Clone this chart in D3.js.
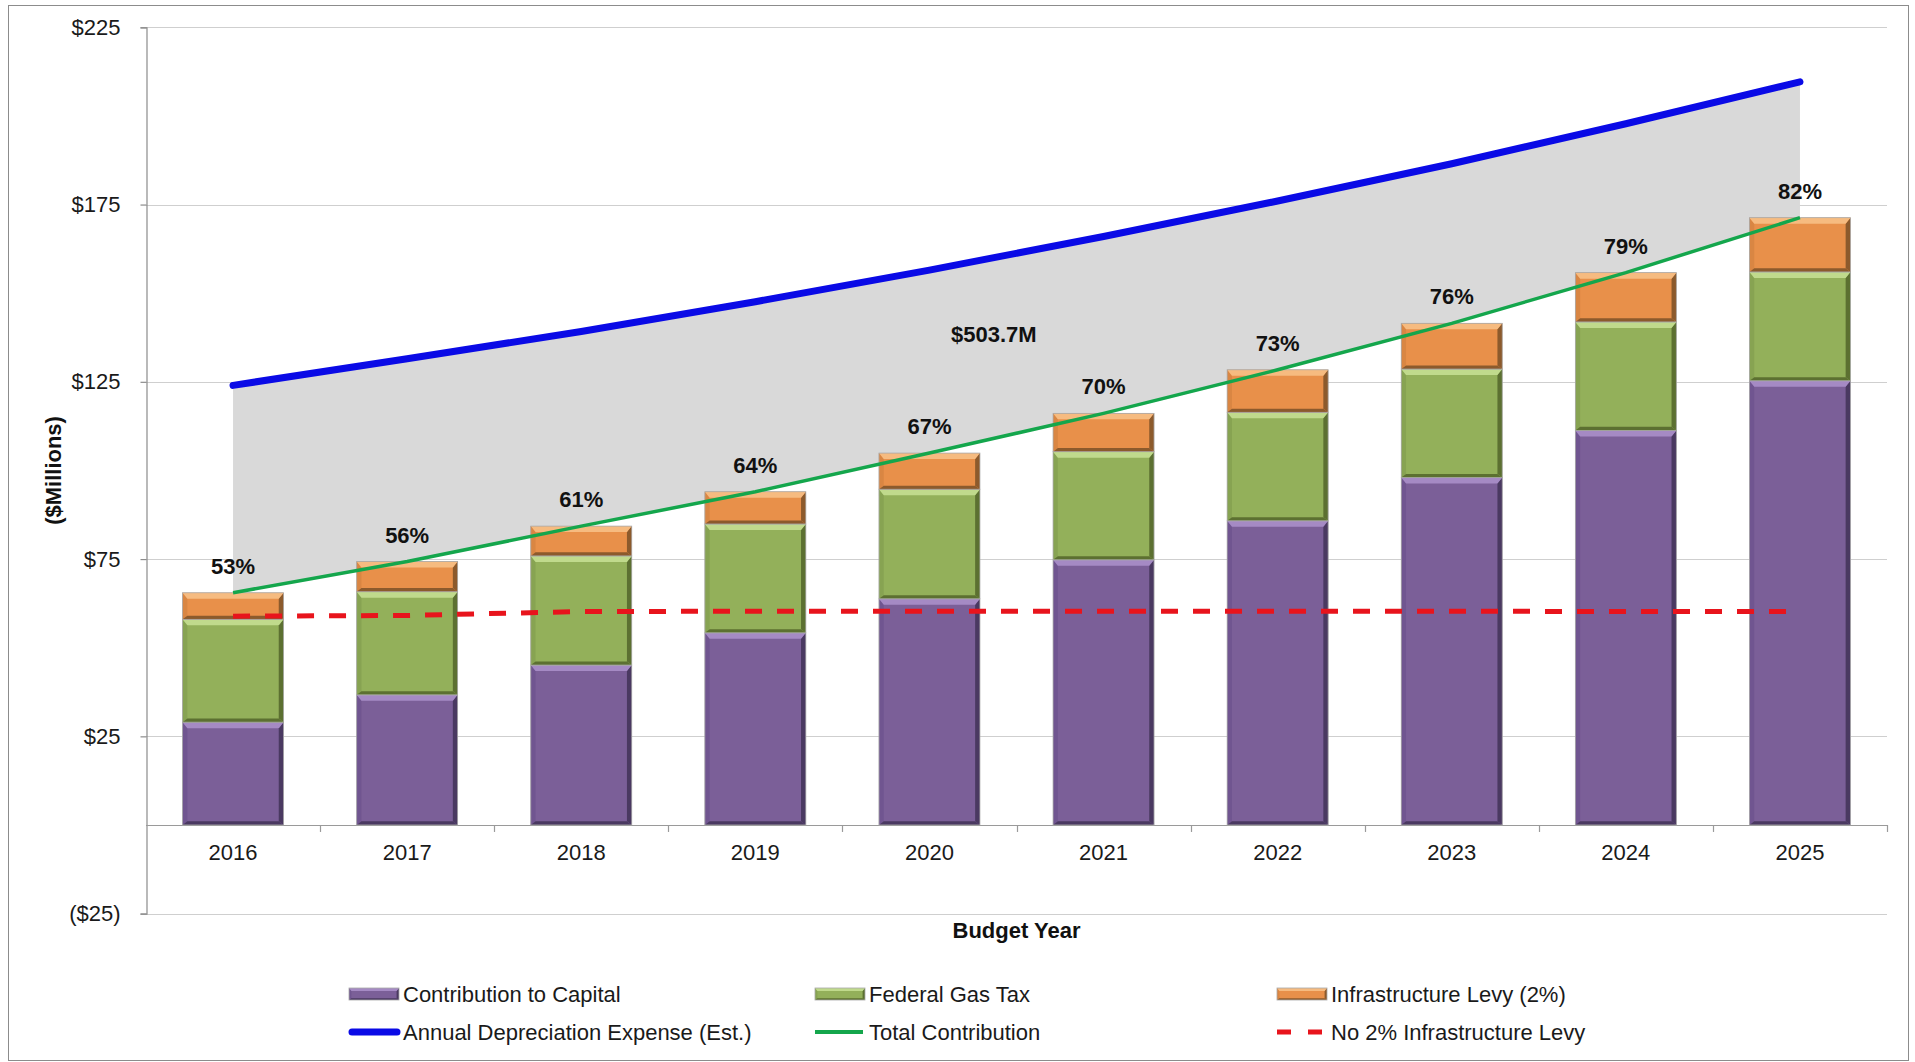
<!DOCTYPE html>
<html>
<head>
<meta charset="utf-8">
<script src="https://cdn.jsdelivr.net/npm/d3@7/dist/d3.min.js"></script>
<style>
  html, body { margin: 0; padding: 0; background: #fff; }
  svg { display: block; }
  text { font-family: "Liberation Sans", Arial, sans-serif; }
</style>
</head>
<body>
<svg id="chart" width="1915" height="1062"></svg>
<script>
// Budget years
const years = ["2016", "2017", "2018", "2019", "2020", "2021", "2022", "2023", "2024", "2025"];

// Stacked funding sources ($ millions)
const contributionToCapital = [29.0, 36.7, 45.1, 54.2, 63.8, 74.8, 85.8, 98.0, 111.3, 125.3];
const federalGasTax         = [29.0, 29.1, 30.8, 30.7, 30.9, 30.5, 30.6, 30.6, 30.6, 30.7];
const infrastructureLevy    = [7.5, 8.5, 8.4, 9.1, 10.2, 10.8, 12.0, 12.9, 13.9, 15.3];

// Line series ($ millions)
const depreciationExpense = [124.0, 131.5, 139.2, 147.6, 156.5, 166.0, 176.0, 186.5, 197.8, 209.6];
const noLevyContribution  = [58.9, 59.1, 60.2, 60.3, 60.3, 60.3, 60.3, 60.3, 60.2, 60.2];

// Funding ratio labels (total contribution / depreciation)
const fundingPct = [53, 56, 61, 64, 67, 70, 73, 76, 79, 82];

// Cumulative funding gap annotation
const gapLabel = "$503.7M";

// Y axis ticks
const yTicks = [-25, 25, 75, 125, 175, 225];

const series = [
  { name: "Contribution to Capital", values: contributionToCapital,
    body: "#7b5f98", light: "#a58ac4", side: "#705590", dark: "#4a3961" },
  { name: "Federal Gas Tax", values: federalGasTax,
    body: "#93b05a", light: "#c0da8c", side: "#87a352", dark: "#5c7031" },
  { name: "Infrastructure Levy (2%)", values: infrastructureLevy,
    body: "#e8904a", light: "#f6bb80", side: "#d98643", dark: "#8c5a2c" }
];

const totalContribution = years.map((_, i) =>
  contributionToCapital[i] + federalGasTax[i] + infrastructureLevy[i]);

const svg = d3.select("#chart");
const FONT = "\"Liberation Sans\", Arial, sans-serif";

// Outer frame
svg.append("rect")
  .attr("x", 8.5).attr("y", 5.5).attr("width", 1900).attr("height", 1055)
  .attr("fill", "#fff").attr("stroke", "#8c8c8c").attr("stroke-width", 1);

const plotLeft = 146, plotRight = 1887;
const x = d3.scaleBand().domain(years).range([plotLeft, plotRight])
  .paddingInner(0.42).paddingOuter(0.21);
const y = d3.scaleLinear().domain([-25, 225]).range([913.6, 27.3]);
const cx = d => x(d) + x.bandwidth() / 2;

// Horizontal gridlines
svg.append("g").selectAll("line").data(yTicks).join("line")
  .attr("x1", plotLeft).attr("x2", plotRight)
  .attr("y1", d => Math.round(y(d)) + 0.5).attr("y2", d => Math.round(y(d)) + 0.5)
  .attr("stroke", "#cfcfcf").attr("stroke-width", 1.2);

// Y axis line, ticks and labels
const yAxis = d3.axisLeft(y).tickValues(yTicks).tickSize(6).tickPadding(20)
  .tickFormat(d => d < 0 ? `($${Math.abs(d)})` : `$${d}`);
const gy = svg.append("g").attr("transform", `translate(${plotLeft + 0.5},0)`).call(yAxis);
gy.select(".domain").attr("stroke", "#8c8c8c").attr("stroke-width", 1.2);
gy.selectAll(".tick line").attr("stroke", "#8c8c8c").attr("stroke-width", 1.2);
gy.selectAll(".tick text").attr("font-family", FONT).attr("font-size", 22)
  .attr("fill", "#1a1a1a");

// Funding gap area between depreciation and total contribution
const gapArea = d3.area()
  .x((d, i) => cx(years[i]))
  .y0((d, i) => y(totalContribution[i]))
  .y1((d, i) => y(depreciationExpense[i]));
svg.append("path").datum(years).attr("d", gapArea).attr("fill", "#d9d9d9");

// Category axis along zero
svg.append("line")
  .attr("x1", plotLeft).attr("x2", plotRight)
  .attr("y1", Math.round(y(0)) + 0.5).attr("y2", Math.round(y(0)) + 0.5)
  .attr("stroke", "#9a9a9a").attr("stroke-width", 1.2);
const boundaries = d3.range(1, years.length + 1).map(i => plotLeft + x.step() * i);
svg.append("g").selectAll("line").data(boundaries).join("line")
  .attr("x1", d => Math.round(d) + 0.5).attr("x2", d => Math.round(d) + 0.5)
  .attr("y1", y(0)).attr("y2", y(0) + 7)
  .attr("stroke", "#9a9a9a").attr("stroke-width", 1.2);

// Bevelled bar segment: light top, shaded sides, dark bottom edge
function bevelRect(g, x0, y0, w, h, s, b) {
  const bt = Math.min(b, h / 3), bs = Math.min(b * 0.8, w / 4), bb = Math.min(b * 0.6, h / 4);
  g.append("rect").attr("x", x0).attr("y", y0).attr("width", w).attr("height", h)
    .attr("fill", s.body);
  const poly = (pts, fill) => g.append("polygon")
    .attr("points", pts.map(p => p.join(",")).join(" ")).attr("fill", fill);
  poly([[x0, y0], [x0 + bs, y0 + bt], [x0 + bs, y0 + h - bb], [x0, y0 + h]], s.side);
  poly([[x0 + w, y0], [x0 + w - bs, y0 + bt], [x0 + w - bs, y0 + h - bb], [x0 + w, y0 + h]], s.dark);
  poly([[x0, y0 + h], [x0 + w, y0 + h], [x0 + w - bs, y0 + h - bb], [x0 + bs, y0 + h - bb]], s.dark);
  poly([[x0, y0], [x0 + w, y0], [x0 + w - bs, y0 + bt], [x0 + bs, y0 + bt]], s.light);
  g.append("rect").attr("x", x0).attr("y", y0).attr("width", w).attr("height", h)
    .attr("fill", "none").attr("stroke", "#a9a9a9").attr("stroke-width", 0.8);
}

// Stacked bars
const stack = d3.stack().keys([0, 1, 2]).value((d, k) => series[k].values[d]);
const stacked = stack(d3.range(years.length));
const gBars = svg.append("g");
stacked.forEach((layer, k) => {
  layer.forEach((seg, i) => {
    const top = y(seg[1]), bottom = y(seg[0]);
    bevelRect(gBars, x(years[i]), top, x.bandwidth(), bottom - top, series[k], 6);
  });
});

// No-levy scenario (dashed)
const line = vals => d3.line().x((d, i) => cx(years[i])).y((d, i) => y(vals[i]))(years);
svg.append("path").attr("d", line(noLevyContribution))
  .attr("fill", "none").attr("stroke", "#e8141c").attr("stroke-width", 5)
  .attr("stroke-dasharray", "17,15").attr("stroke-linecap", "butt");

// Total contribution
svg.append("path").attr("d", line(totalContribution))
  .attr("fill", "none").attr("stroke", "#14a64c").attr("stroke-width", 3.5);

// Annual depreciation expense
svg.append("path").attr("d", line(depreciationExpense))
  .attr("fill", "none").attr("stroke", "#0a0ae6").attr("stroke-width", 7)
  .attr("stroke-linecap", "round").attr("stroke-linejoin", "round");

// Funding ratio labels
svg.append("g").selectAll("text").data(years).join("text")
  .attr("x", d => cx(d)).attr("y", (d, i) => y(totalContribution[i]) - 19)
  .attr("text-anchor", "middle").attr("font-family", FONT)
  .attr("font-size", 22).attr("font-weight", "bold").attr("fill", "#111")
  .text((d, i) => `${fundingPct[i]}%`);

// Cumulative gap annotation
svg.append("text")
  .attr("x", cx("2020") + x.step() * 0.37).attr("y", y(136.3))
  .attr("text-anchor", "middle").attr("font-family", FONT)
  .attr("font-size", 22).attr("font-weight", "bold").attr("fill", "#111")
  .text(gapLabel);

// Year labels
svg.append("g").selectAll("text").data(years).join("text")
  .attr("x", d => cx(d)).attr("y", y(0) + 35)
  .attr("text-anchor", "middle").attr("font-family", FONT)
  .attr("font-size", 22).attr("fill", "#1a1a1a").text(d => d);

// Axis titles
svg.append("text")
  .attr("x", (plotLeft + plotRight) / 2).attr("y", 938)
  .attr("text-anchor", "middle").attr("font-family", FONT)
  .attr("font-size", 22).attr("font-weight", "bold").attr("fill", "#111")
  .text("Budget Year");
svg.append("text")
  .attr("transform", `translate(61,${(y(225) + y(-25)) / 2}) rotate(-90)`)
  .attr("text-anchor", "middle").attr("font-family", FONT)
  .attr("font-size", 22).attr("font-weight", "bold").attr("fill", "#111")
  .text("($Millions)");

// Legend
const legendCols = [349, 815, 1277];
const legendRows = [994, 1032];
const gLeg = svg.append("g");
series.forEach((s, k) => {
  const lx = legendCols[k], ly = legendRows[0];
  bevelRect(gLeg, lx, ly - 6, 50, 12, s, 3);
  gLeg.append("text").attr("x", lx + 54).attr("y", ly + 8)
    .attr("font-family", FONT).attr("font-size", 22).attr("fill", "#1a1a1a").text(s.name);
});
const lineLegend = [
  { name: "Annual Depreciation Expense (Est.)", color: "#0a0ae6", width: 7, dash: null, cap: "round" },
  { name: "Total Contribution", color: "#14a64c", width: 4, dash: null, cap: "butt" },
  { name: "No 2% Infrastructure Levy", color: "#e8141c", width: 5, dash: "14,17", cap: "butt" }
];
lineLegend.forEach((l, k) => {
  const lx = legendCols[k], ly = legendRows[1];
  gLeg.append("line").attr("x1", lx + (l.cap === "round" ? 3 : 0)).attr("x2", lx + 48)
    .attr("y1", ly).attr("y2", ly)
    .attr("stroke", l.color).attr("stroke-width", l.width)
    .attr("stroke-linecap", l.cap).attr("stroke-dasharray", l.dash);
  gLeg.append("text").attr("x", lx + 54).attr("y", ly + 8)
    .attr("font-family", FONT).attr("font-size", 22).attr("fill", "#1a1a1a").text(l.name);
});
</script>
</body>
</html>
